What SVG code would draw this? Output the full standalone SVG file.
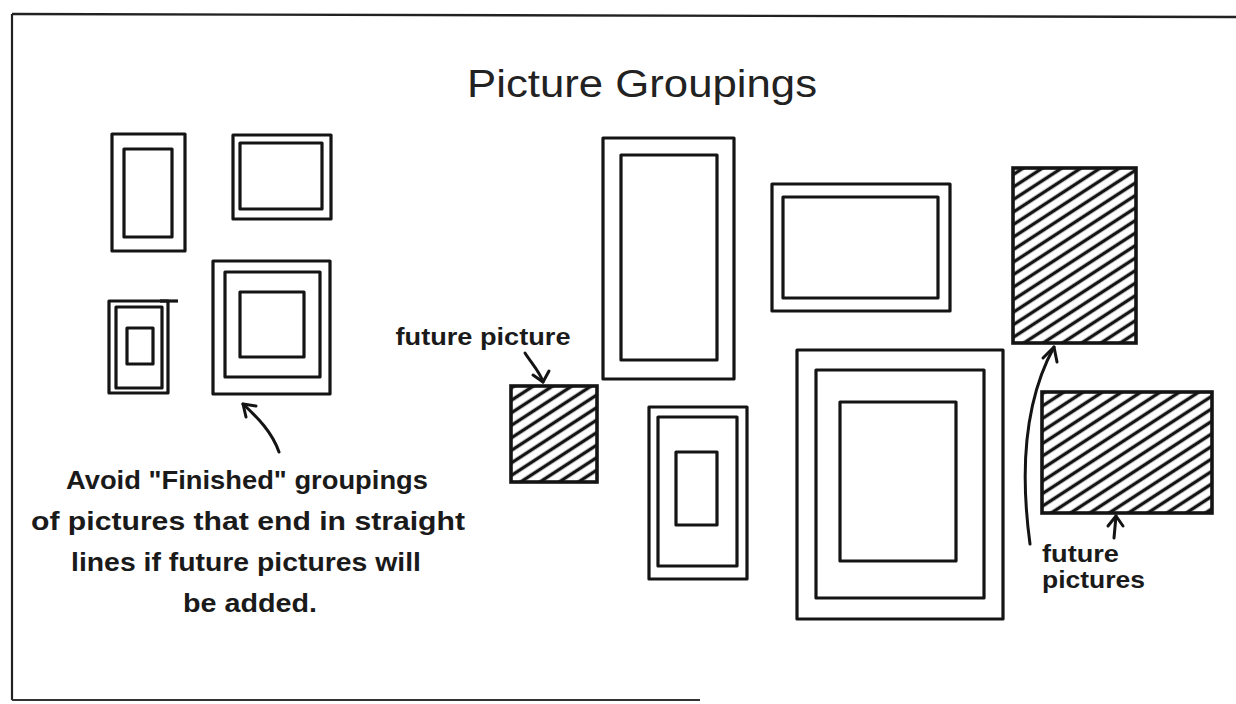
<svg xmlns="http://www.w3.org/2000/svg" width="1236" height="704" viewBox="0 0 1236 704">
<defs>
<style>
.fr{fill:none;stroke:#141414;stroke-width:3.2;stroke-linejoin:round}
.hb{fill:url(#hatch);stroke:#141414;stroke-width:3.6}
.ar{fill:none;stroke:#141414;stroke-width:3;stroke-linecap:round;stroke-linejoin:round}
.lbl{font-family:"Liberation Sans",Arial,sans-serif;font-weight:bold;fill:#1a1a1a}
.ttl{font-family:"Liberation Sans",Arial,sans-serif;fill:#222}
</style>
<pattern id="hatch" width="10.5" height="10.5" patternUnits="userSpaceOnUse" patternTransform="rotate(-33)">
<rect width="10.5" height="10.5" fill="#fff"/>
<line x1="0" y1="5.25" x2="10.5" y2="5.25" stroke="#141414" stroke-width="3.4"/>
</pattern>
</defs>
<rect width="1236" height="704" fill="#fff"/>
<g id="border">
<path d="M12 14 L12 700" stroke="#222" stroke-width="2.2" fill="none"/>
<path d="M12 14 L1236 17" stroke="#222" stroke-width="2.4" fill="none"/>
<path d="M12 700 L700 700" stroke="#333" stroke-width="2.2" fill="none"/>
</g>
<g id="title"><text class="ttl" x="642" y="97" font-size="39" text-anchor="middle" textLength="350" lengthAdjust="spacingAndGlyphs">Picture Groupings</text></g>

<g id="frame-a"><rect class="fr" x="112" y="134" width="73" height="117"/><rect class="fr" x="124" y="149" width="48" height="88"/></g>
<g id="frame-b"><rect class="fr" x="233" y="135" width="98" height="84"/><rect class="fr" x="240" y="143" width="82" height="66"/></g>
<g id="frame-c"><rect class="fr" x="109" y="301" width="59" height="92"/><line class="fr" x1="160" y1="301" x2="178" y2="301"/><rect class="fr" x="116" y="307" width="46" height="81"/><rect class="fr" x="127" y="328" width="26" height="36"/></g>
<g id="frame-d"><rect class="fr" x="213" y="261" width="117" height="133"/><rect class="fr" x="225" y="272" width="95" height="105"/><rect class="fr" x="240" y="292" width="64" height="65"/></g>

<g id="frame-e"><rect class="fr" x="603" y="138" width="131" height="241"/><rect class="fr" x="621" y="155" width="96" height="205"/></g>
<g id="frame-f"><rect class="fr" x="772" y="184" width="178" height="127"/><rect class="fr" x="783" y="197" width="155" height="101"/></g>
<g id="frame-g"><rect class="fr" x="649" y="407" width="98" height="172"/><rect class="fr" x="658" y="417" width="79" height="149"/><rect class="fr" x="676" y="452" width="41" height="73"/></g>
<g id="frame-h"><rect class="fr" x="797" y="350" width="206" height="269"/><rect class="fr" x="816" y="370" width="168" height="228"/><rect class="fr" x="840" y="402" width="116" height="159"/></g>

<g id="future-1"><rect class="hb" x="511" y="386" width="86" height="96"/></g>
<g id="future-2"><rect class="hb" x="1013" y="168" width="123" height="175"/></g>
<g id="future-3"><rect class="hb" x="1042" y="392" width="170" height="121"/></g>

<g id="connectors">
<path class="ar" d="M279 452 C272 432 258 418 243 404"/>
<path class="ar" d="M243 404 L256 406 M243 404 L246 417"/>
<path class="ar" d="M525 353 C532 364 540 372 543 382"/>
<path class="ar" d="M543 382 L533 375 M543 382 L549 371"/>
<path class="ar" d="M1030 544 C1020 470 1025 400 1054 347"/>
<path class="ar" d="M1054 347 L1043 358 M1054 347 L1057 362"/>
<path class="ar" d="M1114 538 L1116 516"/>
<path class="ar" d="M1116 516 L1108 526 M1116 516 L1123 526"/>
</g>

<g id="labels">
<text class="lbl" x="483" y="345" font-size="23" text-anchor="middle" textLength="175" lengthAdjust="spacingAndGlyphs">future picture</text>
<text class="lbl" x="247" y="489" font-size="26" text-anchor="middle" textLength="362" lengthAdjust="spacingAndGlyphs">Avoid "Finished" groupings</text>
<text class="lbl" x="248" y="530" font-size="26" text-anchor="middle" textLength="434" lengthAdjust="spacingAndGlyphs">of pictures that end in straight</text>
<text class="lbl" x="246" y="571" font-size="26" text-anchor="middle" textLength="350" lengthAdjust="spacingAndGlyphs">lines if future pictures will</text>
<text class="lbl" x="250" y="612" font-size="26" text-anchor="middle" textLength="134" lengthAdjust="spacingAndGlyphs">be added.</text>
<text class="lbl" x="1042" y="562" font-size="23" textLength="77" lengthAdjust="spacingAndGlyphs">future</text>
<text class="lbl" x="1042" y="588" font-size="23" textLength="103" lengthAdjust="spacingAndGlyphs">pictures</text>
</g>
</svg>
